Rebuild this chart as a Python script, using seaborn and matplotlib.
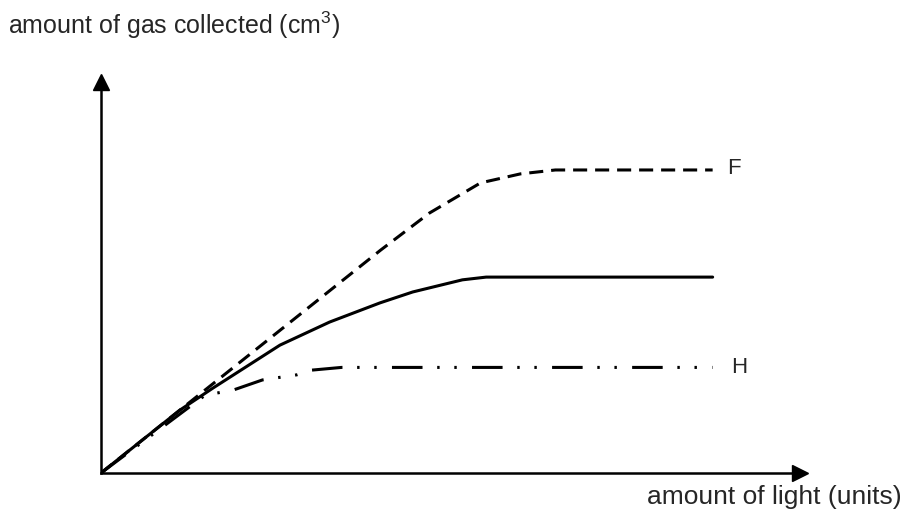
import pandas as pd
import matplotlib.pyplot as plt
import seaborn as sns

# dados (unidades arbitrarias, eixo 0-100)
f_x = [0, 40, 47, 54.3, 60, 65, 87.5]
f_y = [0, 57, 66.5, 74.2, 76.5, 77.5, 77.5]

g_x = [0, 11.3, 16, 25.6, 32.7, 39.9, 44.6, 51.7, 55.1, 87.5]
g_y = [0, 16.1, 21.7, 32.7, 38.6, 43.5, 46.3, 49.4, 50.1, 50.1]

h_x = [0, 14.9, 18.9, 23.1, 28, 30.1, 34.4, 87.5]
h_y = [0, 19.9, 21.2, 23.8, 25.1, 26.3, 27, 27]

rotulos = {'F': (89.6, 77.8), 'H': (90.2, 27)}

sns.set_theme(style="white")
plt.rcParams['font.family'] = ['Liberation Sans', 'DejaVu Sans']
plt.rcParams['mathtext.fontset'] = 'custom'
plt.rcParams['mathtext.rm'] = 'Liberation Sans'

fig = plt.figure(figsize=(9.14, 5.18), dpi=100)
ax = fig.add_axes([0.1105, 0.0869, 0.7648, 0.7548])

df_f = pd.DataFrame({'x': f_x, 'y': f_y})
df_g = pd.DataFrame({'x': g_x, 'y': g_y})
df_h = pd.DataFrame({'x': h_x, 'y': h_y})

lw = 2.2
sns.lineplot(data=df_f, x='x', y='y', ax=ax, color='black', lw=lw,
             linestyle=(0, (4.6, 2.6)), sort=False)
sns.lineplot(data=df_g, x='x', y='y', ax=ax, color='black', lw=lw, sort=False)
sns.lineplot(data=df_h, x='x', y='y', ax=ax, color='black', lw=lw,
             linestyle=(0, (10, 4.8, 0.8, 4.8, 0.8, 5)), sort=False)

for nome, (x, y) in rotulos.items():
    ax.text(x, y, nome, fontsize=16, va='center', ha='left')

ax.set_xlim(0, 100)
ax.set_ylim(0, 100)
ax.set_xticks([])
ax.set_yticks([])
ax.set_xlabel('')
ax.set_ylabel('')
for s in ['top', 'right']:
    ax.spines[s].set_visible(False)
for s in ['left', 'bottom']:
    ax.spines[s].set_color('black')
    ax.spines[s].set_linewidth(1.8)

# pontas das setas dos eixos
ax.plot(1, 0, '>', color='black', ms=11, transform=ax.transAxes, clip_on=False)
ax.plot(0, 1, '^', color='black', ms=11, transform=ax.transAxes, clip_on=False)

fig.text(8 / 914, 1 - 25 / 518, 'amount of gas collected (cm$^{3}$)',
         fontsize=18, ha='left', va='center')
fig.text(902 / 914, 1 - 497 / 518, 'amount of light (units)',
         fontsize=19, ha='right', va='center')

fig.savefig('out.png', dpi=100)
